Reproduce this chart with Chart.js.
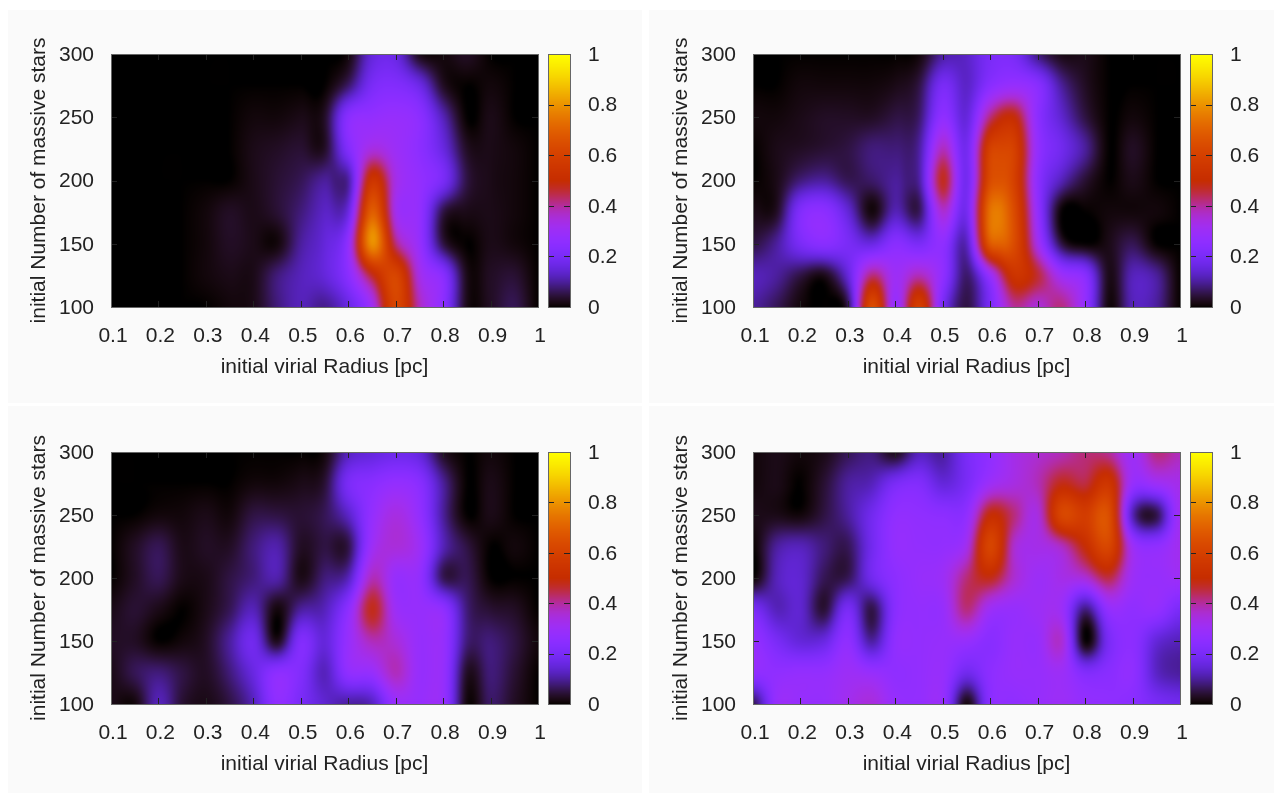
<!DOCTYPE html>
<html>
<head>
<meta charset="utf-8">
<style>
  html, body { margin: 0; background: #fff; }
  body { width: 1274px; height: 795px; position: relative; overflow: hidden; }
  .panel { position: absolute; background: #fafafa; }
  canvas { display: block; }
</style>
<script src="https://cdn.jsdelivr.net/npm/chart.js@4"></script>
</head>
<body>
<div class="panel" style="left:8px;top:10px;width:634px;height:393px"><canvas id="c1" width="634" height="393"></canvas></div>
<div class="panel" style="left:649px;top:10px;width:625px;height:393px"><canvas id="c2" width="625" height="393"></canvas></div>
<div class="panel" style="left:8px;top:406px;width:634px;height:387px"><canvas id="c3" width="634" height="387"></canvas></div>
<div class="panel" style="left:649px;top:406px;width:625px;height:387px"><canvas id="c4" width="625" height="387"></canvas></div>
<script>
// grid of the maps, columns are radii, rows go from the top of the plot down
const radii = [0.1, 0.15, 0.2, 0.25, 0.3, 0.35, 0.4, 0.45, 0.5, 0.55, 0.6, 0.65, 0.7, 0.75, 0.8, 0.85, 0.9, 0.95, 1];
const starCounts = [300, 275, 250, 225, 200, 175, 150, 125, 100];
const xTicks = [0.1, 0.2, 0.3, 0.4, 0.5, 0.6, 0.7, 0.8, 0.9, 1];
const yTicks = [100, 150, 200, 250, 300];
const barTicks = [0, 0.2, 0.4, 0.6, 0.8, 1];

const topLeft = [
  [0, 0, 0, 0, 0, 0, 0, 0, 0, 0, .01, .15, .16, .02, .01, .03, 0, 0, 0],
  [0, 0, 0, 0, 0, 0, 0, 0, 0, 0, .07, .2, .22, .17, .03, 0, .01, 0, 0],
  [0, 0, 0, 0, 0, 0, .01, .01, .02, .03, .24, .27, .28, .25, .12, 0, .02, 0, 0],
  [0, 0, 0, 0, 0, 0, .02, .03, .04, .03, .22, .34, .3, .25, .16, .03, .02, .01, 0],
  [0, 0, 0, 0, 0, 0, .02, .04, .06, .1, .1, .55, .33, .27, .2, .05, .02, .01, 0],
  [0, 0, 0, 0, .01, .03, .02, .04, .08, .13, .16, .7, .32, .27, .05, .02, .02, .01, 0],
  [0, 0, 0, 0, .01, .03, .02, .01, .1, .15, .26, .8, .42, .28, .05, 0, .02, .01, 0],
  [0, 0, 0, 0, .01, .02, .02, .08, .12, .15, .24, .47, .62, .33, .24, .02, .03, .04, 0],
  [0, 0, 0, 0, 0, .01, .02, .08, .12, .09, .16, .3, .62, .38, .25, .02, .03, .06, 0]
];
const topRight = [
  [0, 0, 0, 0, 0, 0, 0, .01, .1, .13, .2, .2, .08, .02, .02, 0, 0, 0, 0],
  [0, 0, .01, .01, .01, .01, .02, .05, .2, .13, .24, .28, .24, .1, .03, 0, 0, 0, 0],
  [.01, .01, .02, .03, .03, .03, .05, .07, .26, .15, .42, .5, .25, .14, .05, 0, .01, 0, 0],
  [0, .02, .03, .04, .05, .08, .08, .1, .38, .18, .6, .6, .27, .18, .1, 0, .03, 0, 0],
  [0, .02, .08, .1, .06, .07, .1, .1, .48, .18, .64, .6, .25, .12, .04, 0, .02, 0, 0],
  [.02, .03, .22, .25, .15, .01, .12, .06, .36, .18, .74, .64, .27, 0, 0, .01, .01, .01, 0],
  [.05, .1, .2, .24, .2, .16, .24, .2, .26, .12, .68, .64, .32, .05, 0, .02, .06, 0, 0],
  [.12, .1, .05, .02, .15, .42, .3, .38, .26, .07, .28, .54, .46, .3, .24, .02, .12, .1, 0],
  [.1, .06, .01, 0, .05, .65, .27, .6, .2, .05, .2, .4, .35, .42, .27, .01, .12, .1, 0]
];
const bottomLeft = [
  [0, 0, 0, 0, 0, 0, 0, 0, 0, .01, .12, .15, .17, .15, .03, 0, .01, 0, 0],
  [0, 0, 0, 0, 0, 0, .01, .01, .02, .04, .2, .24, .27, .24, .1, 0, .02, 0, 0],
  [0, 0, .01, .01, .02, .01, .05, .05, .04, .06, .13, .27, .34, .27, .1, 0, .02, 0, 0],
  [0, .03, .06, .02, .03, .03, .08, .11, .03, .05, .05, .3, .35, .3, .12, .05, 0, .01, 0],
  [0, .03, .06, .02, .02, .05, .08, .11, .02, .08, .12, .38, .28, .27, .06, .06, 0, 0, 0],
  [.02, .04, .02, 0, .02, .06, .12, .01, .1, .12, .25, .48, .3, .28, .26, .08, .04, .03, 0],
  [.03, .03, 0, .01, .03, .1, .18, .02, .22, .15, .28, .38, .35, .28, .28, .08, .08, .05, .01],
  [.02, .06, .08, .05, .03, .08, .16, .25, .22, .12, .26, .28, .38, .28, .28, .03, .08, .04, 0],
  [.02, .01, .12, .04, .02, .05, .12, .26, .2, .14, .1, .12, .28, .28, .28, .01, .07, .03, 0]
];
const bottomRight = [
  [.01, .02, .01, .02, .06, .08, .02, .12, .1, .2, .26, .33, .36, .38, .42, .4, .3, .42, .38],
  [.01, .02, 0, .04, .1, .12, .2, .22, .15, .2, .3, .34, .38, .48, .45, .55, .28, .3, .33],
  [.02, .02, .01, .05, .1, .18, .26, .26, .25, .26, .5, .42, .34, .62, .58, .65, .12, .05, .32],
  [0, .1, .12, .08, .06, .18, .27, .27, .27, .32, .62, .36, .33, .37, .5, .62, .3, .26, .32],
  [0, .12, .14, .06, .06, .18, .25, .28, .3, .42, .48, .36, .3, .33, .35, .45, .3, .28, .3],
  [.2, .12, .14, .04, .2, .05, .24, .27, .28, .42, .3, .28, .3, .3, .08, .27, .26, .27, .2],
  [.27, .2, .15, .16, .26, .1, .26, .27, .28, .28, .24, .28, .28, .36, 0, .2, .25, .15, .12],
  [.26, .26, .27, .27, .3, .28, .26, .27, .28, .18, .25, .28, .28, .3, .22, .24, .26, .13, .1],
  [.05, .28, .28, .28, .32, .35, .28, .27, .28, .01, .24, .26, .28, .3, .27, .26, .24, .2, .18]
];

// gnuplot default palette (rgbformulae 7,5,15), bent a little to the colours
// the reference ended up with after its colour conversion
const bend = (c) => c - 0.05 * Math.sin(2 * Math.PI * c);
function palette(t) {
  const r = Math.sqrt(t);
  const g = t * t * t;
  const b = Math.max(0, Math.sin(2 * Math.PI * t));
  return [
    (bend(r) + 0.05 * Math.pow(Math.sin(Math.PI * r), 4)) * 255,
    (bend(g) + (0.14 * r * (1 - b) + 0.17 * b) * (1 - g)) * 255,
    bend(b) * 255
  ];
}

function cubic(a, b, c, d, t) {
  const v = b + 0.5 * t * (c - a + t * (2 * a - 5 * b + 4 * c - d + t * (3 * (b - c) + d - a)));
  // keep the overshoot small, it makes false holes next to steep edges
  return Math.min(Math.max(b, c) + 0.02, Math.max(Math.min(b, c) - 0.02, v));
}

// smooth lookup in a grid, like pm3d interpolate does when drawing
function lookup(grid, x, y) {
  const fx = (x - radii[0]) / (radii[1] - radii[0]);
  const fy = (starCounts[0] - y) / (starCounts[0] - starCounts[1]);
  const cols = radii.length - 1, rows = starCounts.length - 1;
  const ix = Math.min(cols, Math.max(0, Math.floor(fx)));
  const iy = Math.min(rows, Math.max(0, Math.floor(fy)));
  const row = (r) => {
    const g = grid[Math.min(rows, Math.max(0, r))];
    const at = (i) => g[Math.min(cols, Math.max(0, i))];
    return cubic(at(ix - 1), at(ix), at(ix + 1), at(ix + 2), fx - ix);
  };
  const v = cubic(row(iy - 1), row(iy), row(iy + 1), row(iy + 2), fy - iy);
  return Math.min(1, Math.max(0, v));
}

const BAR_GAP = 10, BAR_WIDTH = 22, TICK = 6;

const heatmap = {
  id: "heatmap",
  beforeDraw(chart) {
    const { ctx, chartArea: a, scales } = chart;
    const grid = chart.options.plugins.heatmap.grid;
    const l = Math.round(a.left), t = Math.round(a.top);
    const w = Math.round(a.right) - l, h = Math.round(a.bottom) - t;
    const off = document.createElement("canvas");
    off.width = w;
    off.height = h;
    const octx = off.getContext("2d");
    const img = octx.createImageData(w, h);
    for (let j = 0; j < h; j++) {
      const y = scales.y.getValueForPixel(t + j + 0.5);
      for (let i = 0; i < w; i++) {
        const c = palette(lookup(grid, scales.x.getValueForPixel(l + i + 0.5), y));
        const p = (j * w + i) * 4;
        img.data[p] = c[0];
        img.data[p + 1] = c[1];
        img.data[p + 2] = c[2];
        img.data[p + 3] = 255;
      }
    }
    octx.putImageData(img, 0, 0);
    ctx.drawImage(off, l, t);
    // soft pass on top, the reference has no hard contours
    ctx.save();
    ctx.beginPath();
    ctx.rect(l, t, w, h);
    ctx.clip();
    ctx.filter = "blur(2px)";
    ctx.drawImage(off, l, t);
    ctx.restore();

    // colour box
    const bl = l + w + BAR_GAP;
    for (let j = 0; j < h; j++) {
      const c = palette(Math.min(1, Math.max(0, scales.cb.getValueForPixel(t + j + 0.5))));
      ctx.fillStyle = `rgb(${c[0]},${c[1]},${c[2]})`;
      ctx.fillRect(bl, t + j, BAR_WIDTH, 1);
    }
  },
  afterDraw(chart) {
    const { ctx, chartArea: a, scales } = chart;
    const l = Math.round(a.left), t = Math.round(a.top);
    const r = Math.round(a.right), b = Math.round(a.bottom);
    const bl = r + BAR_GAP, br = bl + BAR_WIDTH;
    ctx.save();
    ctx.lineWidth = 1;
    ctx.strokeStyle = "#222";
    ctx.beginPath();
    xTicks.forEach((v) => {
      const x = Math.round(scales.x.getPixelForValue(v)) + 0.5;
      ctx.moveTo(x, b); ctx.lineTo(x, b - TICK);
      ctx.moveTo(x, t); ctx.lineTo(x, t + TICK);
    });
    yTicks.forEach((v) => {
      const y = Math.round(scales.y.getPixelForValue(v)) + 0.5;
      ctx.moveTo(l, y); ctx.lineTo(l + TICK, y);
      ctx.moveTo(r, y); ctx.lineTo(r - TICK, y);
    });
    barTicks.forEach((v) => {
      const y = Math.round(scales.cb.getPixelForValue(v)) + 0.5;
      ctx.moveTo(bl, y); ctx.lineTo(bl + TICK, y);
      ctx.moveTo(br, y); ctx.lineTo(br - TICK, y);
    });
    ctx.stroke();
    ctx.strokeStyle = "#666";
    ctx.strokeRect(l + 0.5, t + 0.5, r - l, b - t);
    ctx.strokeRect(bl + 0.5, t + 0.5, BAR_WIDTH, b - t);
    ctx.restore();
  }
};

const font = { family: "'Liberation Sans', Arial, sans-serif", size: 21 };
const plain = (v) => String(+v.toFixed(1));
// tick padding would otherwise push the plot down
const noPadding = (s) => { s.paddingTop = s.paddingBottom = s.paddingLeft = s.paddingRight = 0; };

function makeChart(id, grid, opts) {
  const points = [];
  grid.forEach((row, j) => row.forEach((v, i) => points.push({ x: radii[i], y: starCounts[j], v })));
  new Chart(document.getElementById(id), {
    type: "scatter",
    data: { datasets: [{ data: points, pointRadius: 0 }] },
    plugins: [heatmap],
    options: {
      responsive: false,
      animation: false,
      layout: { autoPadding: false, padding: { top: opts.top, left: 0, right: 0, bottom: 0 } },
      plugins: { legend: { display: false }, tooltip: { enabled: false }, heatmap: { grid } },
      scales: {
        x: {
          type: "linear", min: 0.1, max: 1,
          grid: { display: false }, border: { display: false },
          afterFit(s) { s.height = opts.xHeight; noPadding(s); },
          ticks: { stepSize: 0.1, font, color: "#222", padding: 9, labelOffset: 2, maxRotation: 0, autoSkip: false, callback: plain },
          title: { display: true, text: "initial virial Radius [pc]", font, color: "#222", padding: { bottom: opts.titleBottom } }
        },
        y: {
          type: "linear", min: 100, max: 300,
          grid: { display: false }, border: { display: false },
          afterFit(s) { s.width = opts.yWidth; noPadding(s); },
          ticks: { stepSize: 50, font, color: "#222", padding: 9, labelOffset: 1 },
          title: { display: true, text: "initial Number of massive stars", font, color: "#222", padding: { top: opts.titleLeft } }
        },
        cb: {
          type: "linear", axis: "y", position: "right", min: 0, max: 1,
          grid: { display: false }, border: { display: false },
          afterFit(s) { s.width = opts.cbWidth; noPadding(s); },
          ticks: { stepSize: 0.2, font, color: "#222", padding: 42, labelOffset: 1, callback: plain }
        }
      }
    }
  });
}

const leftCol = { yWidth: 103, cbWidth: 104, titleLeft: 19 };
const rightCol = { yWidth: 104, cbWidth: 94, titleLeft: 20 };
const upperRow = { top: 44, xHeight: 96, titleBottom: 23 };
const lowerRow = { top: 46, xHeight: 89, titleBottom: 16 };

makeChart("c1", topLeft, { ...leftCol, ...upperRow });
makeChart("c2", topRight, { ...rightCol, ...upperRow });
makeChart("c3", bottomLeft, { ...leftCol, ...lowerRow });
makeChart("c4", bottomRight, { ...rightCol, ...lowerRow });
</script>
</body>
</html>
